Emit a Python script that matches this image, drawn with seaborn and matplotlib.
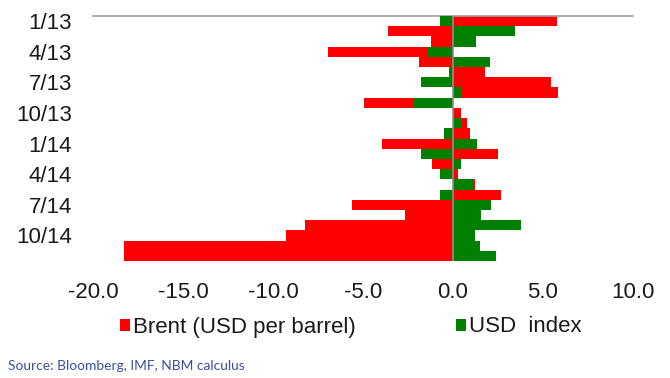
import matplotlib
matplotlib.use("Agg")
import matplotlib.pyplot as plt
from matplotlib.patches import Patch
import seaborn as sns
import pandas as pd

# Monthly changes, Jan 2013 - Dec 2014
months = ["1/13", "2/13", "3/13", "4/13", "5/13", "6/13", "7/13", "8/13",
          "9/13", "10/13", "11/13", "12/13", "1/14", "2/14", "3/14", "4/14",
          "5/14", "6/14", "7/14", "8/14", "9/14", "10/14", "11/14", "12/14"]
brent = [5.80, -3.59, -1.20, -6.93, -1.90, 1.75, 5.43, 5.85,
         -4.92, 0.42, 0.75, 0.97, -3.92, 2.49, -1.16, 0.27,
         1.20, 2.68, -5.59, -2.64, -8.21, -9.28, -18.26, -18.26]
usd_index = [-0.73, 3.44, 1.25, -1.47, 2.05, -0.23, -1.77, 0.47,
             -2.14, 0.05, 0.46, -0.51, 1.31, -1.77, 0.42, -0.73,
             1.14, -0.75, 2.13, 1.57, 3.80, 1.20, 1.49, 2.37]
shown_labels = ["1/13", "4/13", "7/13", "10/13", "1/14", "4/14", "7/14", "10/14"]
x_ticks = [-20, -15, -10, -5, 0, 5, 10]

df = pd.DataFrame({"month": months, "brent": brent, "usd": usd_index})

sns.set_theme(style="white")
plt.rcParams["font.family"] = ["Liberation Sans", "DejaVu Sans"]

RED = "#FF0000"
GREEN = "#008000"

fig = plt.figure(figsize=(6.7, 3.78), dpi=100)
ax = fig.add_axes([93 / 670, 1 - 261 / 378, 540 / 670, 245 / 378])

sns.barplot(data=df, x="brent", y="month", orient="h", color=RED,
            width=1.0, errorbar=None, linewidth=0, saturation=1, ax=ax, zorder=2)
sns.barplot(data=df, x="usd", y="month", orient="h", color=GREEN,
            width=1.0, errorbar=None, linewidth=0, saturation=1, ax=ax, zorder=3)

ax.set_xlim(-20, 10)
ax.set_ylim(len(months) - 0.5, -0.5)
ax.set_xticks(x_ticks)
ax.set_xticklabels([f"{v:.1f}" for v in x_ticks], fontsize=16, color="#1a1a1a")
idx = [months.index(m) for m in shown_labels]
ax.set_yticks(idx)
ax.set_yticklabels(shown_labels, fontsize=16, color="#1a1a1a")
ax.tick_params(axis="x", length=0, pad=15)
ax.tick_params(axis="y", length=0, pad=15)
ax.set_xlabel("")
ax.set_ylabel("")

for side in ["left", "right", "bottom"]:
    ax.spines[side].set_visible(False)
ax.spines["top"].set_color("#a0a0a0")
ax.spines["top"].set_linewidth(1.2)
ax.axvline(0, color="#909090", linewidth=1.2, zorder=4)

handles = [Patch(facecolor=RED, edgecolor="none", label="Brent (USD per barrel)"),
           Patch(facecolor=GREEN, edgecolor="none", label="USD  index")]
fig.legend(handles=handles, loc="center", bbox_to_anchor=(0.524, 1 - 327 / 378),
           ncol=2, frameon=False, fontsize=16, handlelength=0.45, handleheight=0.45,
           handletextpad=0.15, columnspacing=4.5, labelcolor="#1a1a1a")

fig.text(8 / 670, 1 - 366 / 378, "Source: Bloomberg, IMF, NBM calculus",
         fontsize=9.9, color="#3b4ea3", family=["Lato", "DejaVu Sans"],
         ha="left", va="center")

fig.savefig("out.png", dpi=100)
